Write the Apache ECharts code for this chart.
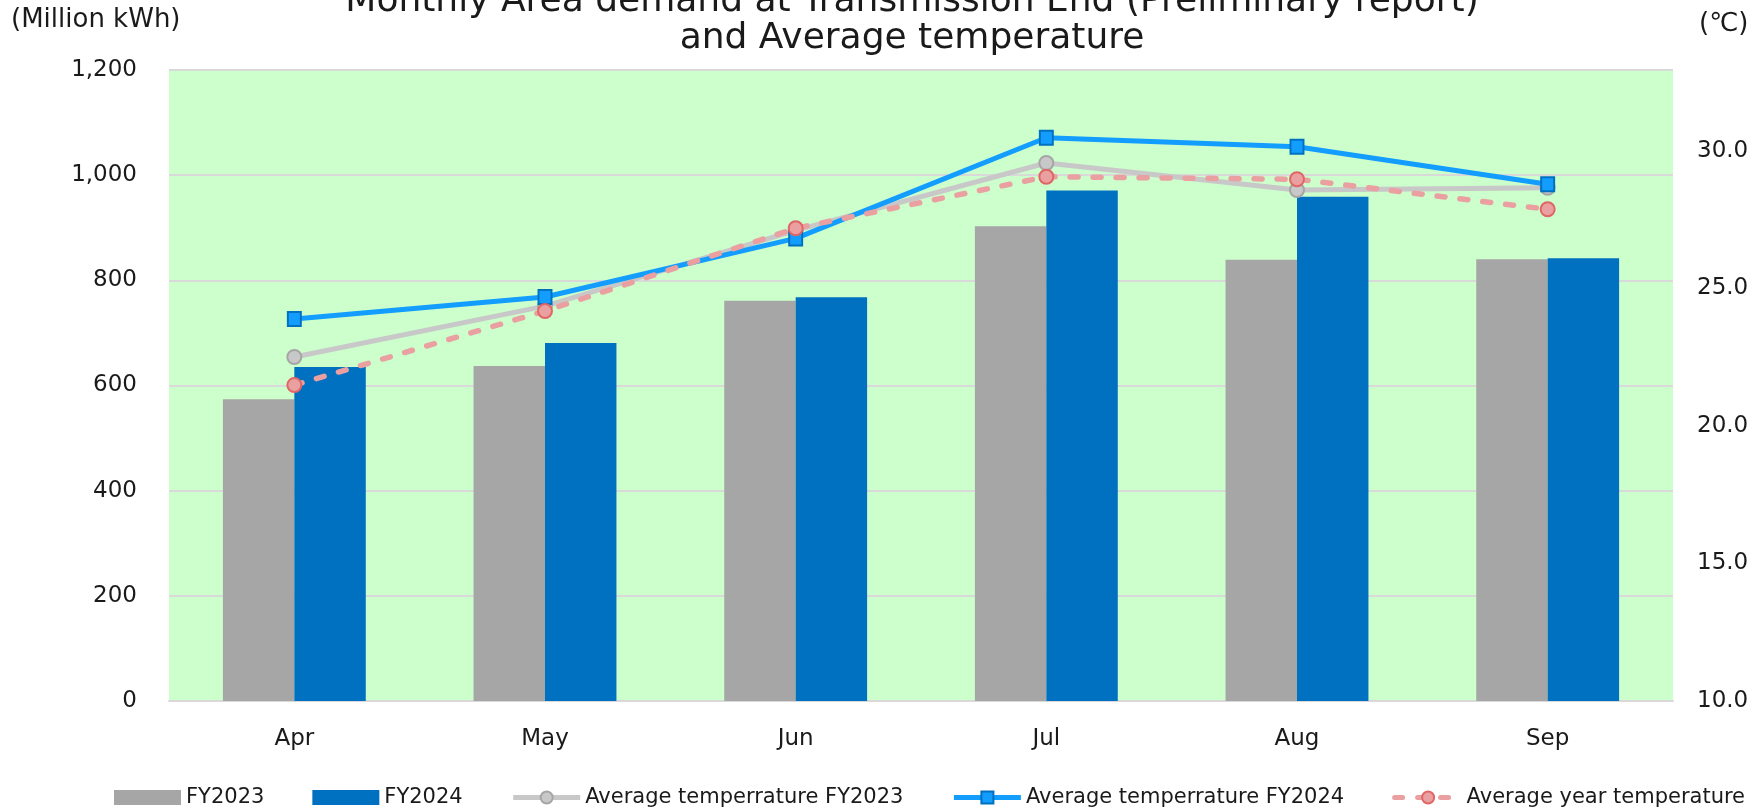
<!DOCTYPE html>
<html>
<head>
<meta charset="utf-8">
<title>Monthly Area demand at Transmission End and Average temperature</title>
<script src="https://cdn.jsdelivr.net/npm/echarts@6/dist/echarts.min.js"></script>
<style>
  html, body { margin: 0; padding: 0; background: #ffffff; }
  #chart { width: 1764px; height: 811px; }
</style>
</head>
<body>
<div id="chart"></div>
<script>
// Months of the fiscal first half
const months = ['Apr', 'May', 'Jun', 'Jul', 'Aug', 'Sep'];

// Area demand at transmission end (Million kWh)
const demandFY2023 = [574, 637, 761, 903, 839, 840];
const demandFY2024 = [635, 681, 768, 971, 959, 842];

// Monthly average temperature (°C)
const tempFY2023 = [22.5, 24.35, 27.1, 29.55, 28.57, 28.65];
const tempFY2024 = [23.88, 24.68, 26.81, 30.47, 30.14, 28.78];
const tempAvgYear = [21.48, 24.17, 27.18, 29.05, 28.96, 27.87];

// Axis ticks
const demandTicks = [0, 200, 400, 600, 800, 1000, 1200];
const tempTicks = [10, 15, 20, 25, 30];

const FONT = '"DejaVu Sans", Verdana, sans-serif';
const TEXT = '#1a1a1a';

const chart = echarts.init(document.getElementById('chart'), null, { renderer: 'canvas' });

chart.setOption({
  backgroundColor: '#ffffff',
  animation: false,
  textStyle: { fontFamily: FONT, color: TEXT },
  title: {
    text: 'Monthly Area demand at Transmission End (Preliminary report)\nand Average temperature',
    left: 907,
    top: -22,
    textAlign: 'center',
    textStyle: { fontFamily: FONT, fontSize: 36, fontWeight: 'normal', color: TEXT, lineHeight: 37 }
  },
  graphic: [
    { type: 'text', left: 11, top: 7, style: { text: '(Million kWh)', font: '26px ' + FONT, fill: TEXT } },
    { type: 'text', left: 1699, top: 11, style: { text: '(\u2103)', font: '26px ' + FONT, fill: TEXT } }
  ],
  legend: {
    left: 109,
    top: 782,
    itemWidth: 67,
    itemHeight: 15,
    itemGap: 48,
    textStyle: { fontFamily: FONT, fontSize: 21, color: TEXT },
    data: [
      { name: 'FY2023', icon: 'rect' },
      { name: 'FY2024', icon: 'rect' },
      { name: 'Average temperrature FY2023', lineStyle: { width: 5 } },
      { name: 'Average temperrature FY2024', lineStyle: { width: 5 } },
      { name: 'Average year temperature', lineStyle: { width: 5 } }
    ]
  },
  grid: {
    left: 169,
    right: 91,
    top: 70,
    bottom: 110,
    show: true,
    backgroundColor: '#ccffcc',
    borderWidth: 0
  },
  xAxis: {
    type: 'category',
    data: months,
    axisTick: { show: false },
    axisLine: { lineStyle: { color: '#d9d9d9', width: 2 } },
    axisLabel: { fontFamily: FONT, fontSize: 23, color: TEXT, margin: 27 }
  },
  yAxis: [
    {
      type: 'value',
      min: demandTicks[0],
      max: demandTicks[demandTicks.length - 1],
      interval: demandTicks[1] - demandTicks[0],
      axisLine: { show: false },
      axisTick: { show: false },
      splitLine: { lineStyle: { color: '#d9d9d9', width: 2 } },
      axisLabel: {
        fontFamily: FONT, fontSize: 23, color: TEXT, margin: 32,
        formatter: v => v.toLocaleString('en-US')
      }
    },
    {
      type: 'value',
      min: tempTicks[0],
      max: 32.93,
      interval: tempTicks[1] - tempTicks[0],
      axisLine: { show: false },
      axisTick: { show: false },
      splitLine: { show: false },
      axisLabel: {
        fontFamily: FONT, fontSize: 23, color: TEXT, margin: 24,
        showMaxLabel: false,
        formatter: v => v.toFixed(1)
      }
    }
  ],
  series: [
    {
      name: 'FY2023',
      type: 'bar',
      data: demandFY2023,
      barGap: '0%',
      barCategoryGap: '43%',
      itemStyle: { color: '#a6a6a6' },
      z: 2
    },
    {
      name: 'FY2024',
      type: 'bar',
      data: demandFY2024,
      itemStyle: { color: '#0070c0' },
      z: 2
    },
    {
      name: 'Average temperrature FY2023',
      type: 'line',
      yAxisIndex: 1,
      data: tempFY2023,
      symbol: 'circle',
      symbolSize: 14,
      lineStyle: { color: '#c8c8c8', width: 5 },
      itemStyle: { color: '#c8c8c8', borderColor: '#a6a6a6', borderWidth: 2 },
      z: 3
    },
    {
      name: 'Average temperrature FY2024',
      type: 'line',
      yAxisIndex: 1,
      data: tempFY2024,
      symbol: 'rect',
      symbolSize: [13, 14],
      lineStyle: { color: '#139dff', width: 5 },
      itemStyle: { color: '#139dff', borderColor: '#0070c0', borderWidth: 2 },
      z: 4
    },
    {
      name: 'Average year temperature',
      type: 'line',
      yAxisIndex: 1,
      data: tempAvgYear,
      symbol: 'circle',
      symbolSize: 14,
      lineStyle: { color: '#eaa0a0', width: 5.5, type: [8, 15], cap: 'round' },
      itemStyle: { color: '#eaa0a0', borderColor: '#e06666', borderWidth: 2 },
      z: 5
    }
  ]
});
</script>
</body>
</html>
